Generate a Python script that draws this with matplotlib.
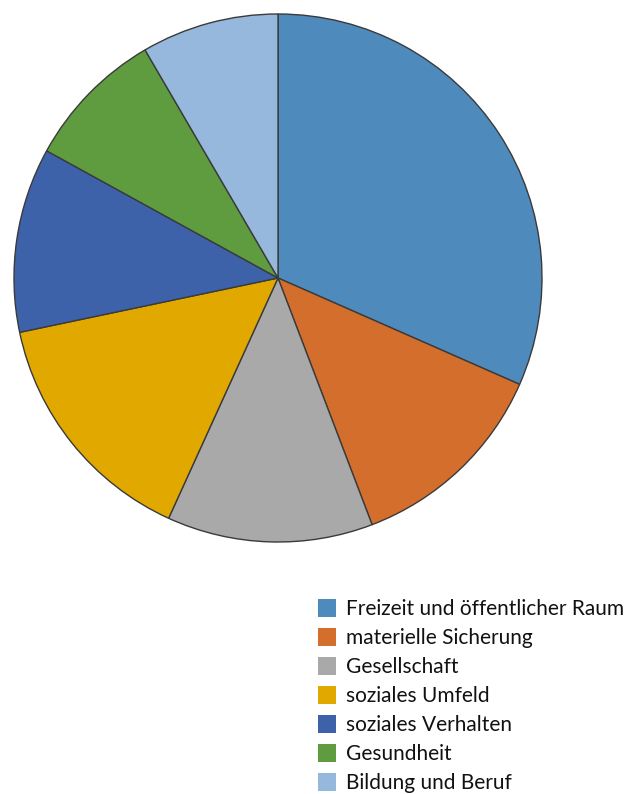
import matplotlib
matplotlib.use('Agg')
import matplotlib.pyplot as plt
from matplotlib.patches import Rectangle

plt.rcParams['font.family'] = ['Lato', 'DejaVu Sans']

labels = ['Freizeit und öffentlicher Raum', 'materielle Sicherung', 'Gesellschaft',
          'soziales Umfeld', 'soziales Verhalten', 'Gesundheit', 'Bildung und Beruf']
shares = [31.6, 12.6, 12.6, 14.9, 11.3, 8.6, 8.4]
colors = ['#4f8abd', '#d46e2c', '#a9a9a9', '#e1a800', '#3d62aa', '#5f9b3f', '#97b8dd']

W, H = 631, 794
fig = plt.figure(figsize=(W / 100, H / 100), dpi=100)

# pie centre at (278, 278) px, radius 264 px
cx, cy, r = 278, 278, 264
ax = fig.add_axes([(cx - r) / W, 1 - (cy + r) / H, 2 * r / W, 2 * r / H])
ax.pie(shares, colors=colors, startangle=90, counterclock=False,
       wedgeprops=dict(edgecolor='#3a3a3a', linewidth=1.0))
ax.set_xlim(-1.0, 1.0)
ax.set_ylim(-1.0, 1.0)
ax.set_aspect('equal')
ax.axis('off')

# legend drawn by hand
y0, step = 608, 29.0
for i, (lab, col) in enumerate(zip(labels, colors)):
    yc = y0 + i * step
    fig.add_artist(Rectangle((318 / W, 1 - (yc + 9) / H), 18 / W, 18 / H,
                             transform=fig.transFigure, facecolor=col, edgecolor='none'))
    fig.text(346 / W, 1 - (yc + 1) / H, lab, fontsize=15.0, va='center', ha='left',
             color='#111111')

fig.savefig('out.png', dpi=100)
